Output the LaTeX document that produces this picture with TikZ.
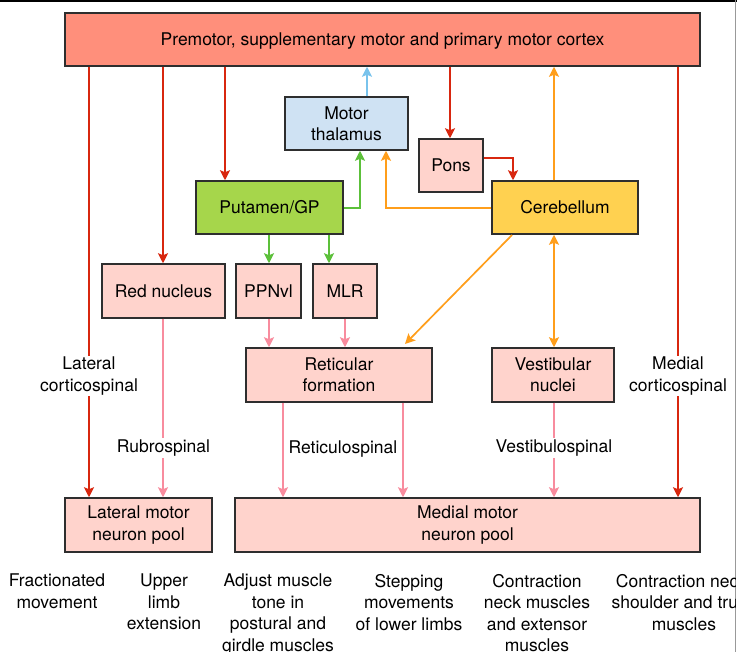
\documentclass[tikz,border=0pt]{standalone}
\usepackage{fontspec}
\setmainfont{TeX Gyre Heros}
\usetikzlibrary{arrows.meta}
\definecolor{cortexfill}{HTML}{FF8F7B}
\definecolor{pinkfill}{HTML}{FFD3CC}
\definecolor{thalfill}{HTML}{CFE2F3}
\definecolor{greenfill}{HTML}{A6D64B}
\definecolor{yellowfill}{HTML}{FFD150}
\definecolor{redline}{HTML}{D8270F}
\definecolor{pinkline}{HTML}{F88C9E}
\definecolor{orangeline}{HTML}{FF9E1B}
\definecolor{greenline}{HTML}{5CC03A}
\definecolor{blueline}{HTML}{79C3EC}
\definecolor{boxline}{HTML}{2E2E2E}
\tikzset{
  box/.style={draw=boxline, line width=1.5pt, align=center, inner sep=0pt,
    font=\fontsize{17.5}{21.3}\selectfont},
  lbl/.style={fill=white, align=center, inner sep=1.5pt, font=\fontsize{17.5}{21.3}\selectfont},
  outtxt/.style={align=center, inner sep=0pt, font=\fontsize{17.5}{21.5}\selectfont},
  tip/.style={-{Stealth[length=10pt,width=10pt,inset=2pt]}},
  redarr/.style={tip, draw=redline, line width=1.7pt},
  pinkarr/.style={tip, draw=pinkline, line width=1.7pt},
  orarr/.style={tip, draw=orangeline, line width=1.7pt},
  orarr2/.style={{Stealth[length=10pt,width=10pt,inset=2pt]}-{Stealth[length=10pt,width=10pt,inset=2pt]}, draw=orangeline, line width=1.7pt},
  grarr/.style={tip, draw=greenline, line width=1.7pt},
  blarr/.style={tip, draw=blueline, line width=1.7pt},
}
\begin{document}
\begin{tikzpicture}[x=1pt,y=-1pt]
\useasboundingbox (0,0) rectangle (737,652);
\fill[white] (0,0) rectangle (737,652);
\fill[black] (0,0) rectangle (737,2.5);
\draw[gray!80, line width=1pt] (735.5,0) -- (735.5,652);

% boxes
\node[box, fill=cortexfill, minimum width=635pt, minimum height=53pt, text depth=0pt] (top) at (382.5,39.5) {Premotor, supplementary motor and primary motor cortex};
\node[box, fill=thalfill, minimum width=123pt, minimum height=53pt] (thal) at (346.5,123.5) {Motor\\thalamus};
\node[box, fill=pinkfill, minimum width=64pt, minimum height=53pt] (pons) at (451,165.5) {Pons};
\node[box, fill=greenfill, minimum width=147pt, minimum height=53pt] (put) at (269.5,207.5) {Putamen/GP};
\node[box, fill=yellowfill, minimum width=146pt, minimum height=53pt] (cer) at (565,207.5) {Cerebellum};
\node[box, fill=pinkfill, minimum width=123pt, minimum height=54pt] (red) at (163.5,291) {Red nucleus};
\node[box, fill=pinkfill, minimum width=65pt, minimum height=54pt] (ppn) at (268.5,291) {PPNvl};
\node[box, fill=pinkfill, minimum width=64pt, minimum height=54pt] (mlr) at (345,291) {MLR};
\node[box, fill=pinkfill, minimum width=186pt, minimum height=54pt] (ret) at (339,375) {Reticular\\formation};
\node[box, fill=pinkfill, minimum width=122pt, minimum height=54pt] (ves) at (553,375) {Vestibular\\nuclei};
\node[box, fill=pinkfill, minimum width=147pt, minimum height=54pt] (lat) at (138.5,525) {Lateral motor\\neuron pool};
\node[box, fill=pinkfill, minimum width=465pt, minimum height=54pt] (med) at (467.5,525) {Medial motor\\neuron pool};

% helper coordinates
\coordinate (xlc) at (89,0);
\coordinate (xmc) at (678,0);
\coordinate (xrn) at (163,0);
\coordinate (xpu) at (225,0);
\coordinate (xpo) at (450,0);
\coordinate (xth) at (367,0);
\coordinate (xce) at (554,0);
\coordinate (xr1) at (283,0);
\coordinate (xr2) at (403,0);
\coordinate (xg1) at (269,0);
\coordinate (xg2) at (329,0);
\coordinate (xp2) at (345,0);
\coordinate (xpc) at (513,0);
\coordinate (xgt) at (360,0);
\coordinate (xct) at (386,0);
\coordinate (ymid) at (0,208);
\coordinate (yps) at (0,158);

% cortex outputs
\draw[redarr] (top.south -| xlc) -- (lat.north -| xlc);
\draw[redarr] (top.south -| xmc) -- (med.north -| xmc);
\draw[redarr] (top.south -| xrn) -- (red.north -| xrn);
\draw[redarr] (top.south -| xpu) -- (put.north -| xpu);
\draw[redarr] (top.south -| xpo) -- (pons.north -| xpo);
\draw[redarr] (pons.east |- yps) -| (cer.north -| xpc);

% to cortex
\draw[blarr] (thal.north -| xth) -- (top.south -| xth);
\draw[orarr] (cer.north -| xce) -- (top.south -| xce);

% to thalamus
\draw[grarr] (put.east |- ymid) -| (thal.south -| xgt);
\draw[orarr] (cer.west |- ymid) -| (thal.south -| xct);

% basal ganglia outputs
\draw[grarr] (put.south -| xg1) -- (ppn.north -| xg1);
\draw[grarr] (put.south -| xg2) -- (mlr.north -| xg2);
\draw[pinkarr] (ppn.south -| xg1) -- (ret.north -| xg1);
\draw[pinkarr] (mlr.south -| xp2) -- (ret.north -| xp2);

% cerebellum outputs
\coordinate (cd) at (512,235);
\coordinate (rd) at (405,344);
\draw[orarr] (cd) -- (rd);
\draw[orarr2] (cer.south -| xce) -- (ves.north -| xce);

% spinal tracts
\draw[pinkarr] (red.south -| xrn) -- (lat.north -| xrn);
\draw[pinkarr] (ret.south -| xr1) -- (med.north -| xr1);
\draw[pinkarr] (ret.south -| xr2) -- (med.north -| xr2);
\draw[pinkarr] (ves.south -| xce) -- (med.north -| xce);

% tract labels
\node[lbl] (llc) at (89,376) {Lateral\\corticospinal};
\node[lbl] (lmc) at (678,376) {Medial\\corticospinal};
\node[lbl] (lrs) at (163.5,448) {Rubrospinal};
\node[lbl] (lrt) at (343,449) {Reticulospinal};
\node[lbl] (lvs) at (554,448) {Vestibulospinal};

% outputs
\begin{scope}
\clip (0,0) rectangle (735,652);
\node[outtxt, anchor=north] (o1) at (57,574) {Fractionated\\movement};
\node[outtxt, anchor=north] (o2) at (164,574) {Upper\\limb\\extension};
\node[outtxt, anchor=north] (o3) at (278,574) {Adjust muscle\\tone in\\postural and\\girdle muscles};
\node[outtxt, anchor=north] (o4) at (409,574) {Stepping\\movements\\of lower limbs};
\node[outtxt, anchor=north] (o5) at (537,574) {Contraction\\neck muscles\\and extensor\\muscles};
\node[outtxt, anchor=north] (o6) at (684,574) {Contraction neck,\\shoulder and trunk\\muscles};
\end{scope}
\end{tikzpicture}
\end{document}
